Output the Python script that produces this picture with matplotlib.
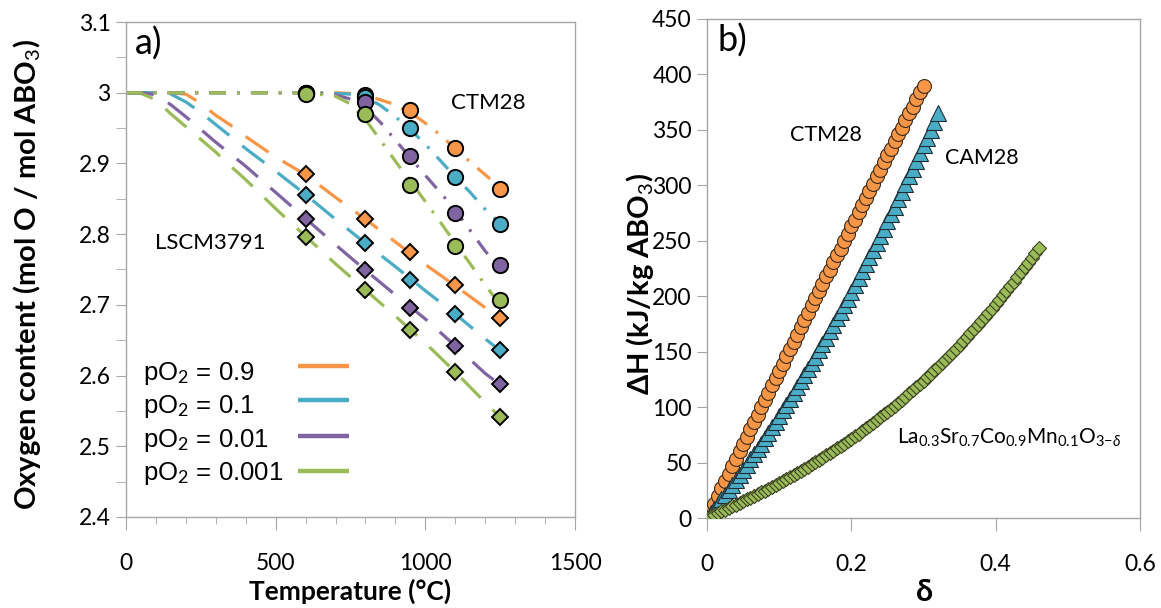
import matplotlib
matplotlib.use("Agg")
import matplotlib.pyplot as plt
from matplotlib.ticker import MultipleLocator

plt.rcParams["font.family"] = ["Lato", "DejaVu Sans"]
plt.rcParams["mathtext.fontset"] = "custom"
plt.rcParams["mathtext.rm"] = "Lato"
plt.rcParams["mathtext.bf"] = "Lato:bold"
plt.rcParams["mathtext.it"] = "Lato:italic"
plt.rcParams["mathtext.fallback"] = "stixsans"
plt.rcParams["lines.scale_dashes"] = False

ORANGE = "#F79646"
BLUE = "#4BACC6"
PURPLE = "#8064A2"
GREEN = "#9BBB59"
SPINE = "#a6a6a6"

# ---- panel a) oxygen content vs temperature ----
PO2_LABELS = ["0.9", "0.1", "0.01", "0.001"]

# measured points
T_POINTS = [600, 800, 950, 1100, 1250]
CTM_PTS_09 = [3.000, 2.997, 2.976, 2.922, 2.864]
CTM_PTS_01 = [3.000, 2.994, 2.950, 2.881, 2.815]
CTM_PTS_001 = [3.000, 2.987, 2.910, 2.830, 2.757]
CTM_PTS_0001 = [2.998, 2.970, 2.869, 2.783, 2.707]

LSCM_PTS_09 = [2.885, 2.822, 2.775, 2.728, 2.682]
LSCM_PTS_01 = [2.855, 2.787, 2.735, 2.687, 2.636]
LSCM_PTS_001 = [2.822, 2.749, 2.696, 2.642, 2.588]
LSCM_PTS_0001 = [2.796, 2.721, 2.664, 2.605, 2.542]

# model curves
T_CTM_MODEL = [0, 600, 700, 750, 800, 850, 900, 950, 1000, 1050, 1100, 1150, 1200, 1250]
CTM_MODEL_09 = [3.0, 3.0, 3.0, 2.999, 2.996, 2.990, 2.983, 2.972, 2.957, 2.940, 2.921, 2.902, 2.884, 2.866]
CTM_MODEL_01 = [3.0, 3.0, 2.999, 2.998, 2.994, 2.982, 2.966, 2.948, 2.927, 2.904, 2.881, 2.859, 2.835, 2.815]
CTM_MODEL_001 = [3.0, 3.0, 2.997, 2.991, 2.979, 2.958, 2.933, 2.908, 2.883, 2.859, 2.834, 2.805, 2.776, 2.752]
CTM_MODEL_0001 = [3.0, 3.0, 2.995, 2.984, 2.962, 2.933, 2.903, 2.875, 2.846, 2.817, 2.787, 2.758, 2.728, 2.700]

T_LSCM_MODEL = [0, 50, 100, 150, 200, 250, 300, 350, 400, 500, 600, 700, 800, 900, 1000, 1100, 1200, 1250]
LSCM_MODEL_09 = [3.0, 3.0, 3.0, 3.0, 2.998, 2.985, 2.968, 2.954, 2.938, 2.909, 2.884, 2.852, 2.821, 2.789, 2.757, 2.727, 2.696, 2.681]
LSCM_MODEL_01 = [3.0, 3.0, 3.0, 2.998, 2.987, 2.972, 2.955, 2.938, 2.921, 2.889, 2.856, 2.821, 2.787, 2.754, 2.720, 2.687, 2.652, 2.635]
LSCM_MODEL_001 = [3.0, 3.0, 2.997, 2.983, 2.966, 2.948, 2.930, 2.913, 2.896, 2.859, 2.822, 2.785, 2.749, 2.714, 2.680, 2.642, 2.603, 2.587]
LSCM_MODEL_0001 = [3.0, 2.999, 2.990, 2.970, 2.952, 2.934, 2.916, 2.896, 2.877, 2.836, 2.797, 2.758, 2.721, 2.684, 2.646, 2.605, 2.562, 2.541]

# ---- panel b) enthalpy vs delta ----
DELTA = [
    0.000, 0.005, 0.010, 0.015, 0.020, 0.025, 0.030, 0.035, 0.040, 0.045,
    0.050, 0.055, 0.060, 0.065, 0.070, 0.075, 0.080, 0.085, 0.090, 0.095,
    0.100, 0.105, 0.110, 0.115, 0.120, 0.125, 0.130, 0.135, 0.140, 0.145,
    0.150, 0.155, 0.160, 0.165, 0.170, 0.175, 0.180, 0.185, 0.190, 0.195,
    0.200, 0.205, 0.210, 0.215, 0.220, 0.225, 0.230, 0.235, 0.240, 0.245,
    0.250, 0.255, 0.260, 0.265, 0.270, 0.275, 0.280, 0.285, 0.290, 0.295,
    0.300, 0.305, 0.310, 0.315, 0.320, 0.325, 0.330, 0.335, 0.340, 0.345,
    0.350, 0.355, 0.360, 0.365, 0.370, 0.375, 0.380, 0.385, 0.390, 0.395,
    0.400, 0.405, 0.410, 0.415, 0.420, 0.425, 0.430, 0.435, 0.440, 0.445,
    0.450, 0.455, 0.460,
]
DH_CTM28 = [
    0, 7, 13, 20, 27, 33, 40, 47, 53, 60,
    67, 73, 80, 87, 93, 100, 106, 113, 120, 126,
    133, 139, 146, 152, 159, 165, 172, 179, 185, 192,
    198, 205, 211, 218, 224, 231, 237, 243, 250, 256,
    263, 269, 276, 282, 289, 295, 301, 308, 314, 321,
    327, 333, 340, 346, 352, 359, 365, 371, 378, 384,
    390,
]
DH_CAM28 = [
    0, 4.1, 8.3, 12.5, 16.8, 21.1, 25.5, 29.9, 34.4, 38.9,
    43.5, 48.1, 52.8, 57.5, 62.3, 67.1, 72.0, 76.9, 81.9, 86.9,
    92.0, 97.1, 102.3, 107.5, 112.8, 118.1, 123.5, 128.9, 134.4, 139.9,
    145.5, 151.1, 156.8, 162.5, 168.3, 174.1, 180.0, 185.9, 191.9, 197.9,
    204.0, 210.1, 216.3, 222.5, 228.8, 235.1, 241.5, 247.9, 254.4, 260.9,
    267.5, 274.1, 280.8, 287.5, 294.3, 301.1, 308.0, 314.9, 321.9, 328.9,
    336.0, 343.1, 350.3, 357.5, 364.8,
]
DH_LSCM = [
    0, 1.5, 2.9, 4.4, 5.9, 7.4, 8.9, 10.4, 12.0, 13.5,
    15.1, 16.7, 18.3, 19.9, 21.5, 23.2, 24.8, 26.5, 28.2, 30.0,
    31.7, 33.5, 35.3, 37.1, 38.9, 40.7, 42.6, 44.5, 46.4, 48.4,
    50.4, 52.4, 54.4, 56.4, 58.5, 60.6, 62.8, 64.9, 67.1, 69.4,
    71.6, 73.9, 76.2, 78.6, 80.9, 83.4, 85.8, 88.3, 90.8, 93.4,
    95.9, 98.6, 101.2, 103.9, 106.7, 109.4, 112.3, 115.1, 118.0, 120.9,
    123.9, 126.9, 130.0, 133.1, 136.2, 139.4, 142.6, 145.9, 149.2, 152.6,
    156.0, 159.5, 163.0, 166.5, 170.1, 173.8, 177.5, 181.2, 185.0, 188.9,
    192.8, 196.8, 200.8, 204.8, 208.9, 213.1, 217.3, 221.6, 226.0, 230.3,
    234.8, 239.3, 243.9,
]

DASH_LSCM = (20, 12)
DASH_CTM = (12, 8, 2, 8)


def style_axis(ax):
    for sp in ax.spines.values():
        sp.set_color(SPINE)
        sp.set_linewidth(1.0)
    ax.tick_params(which="both", direction="out", color=SPINE, labelsize=16.5)


def plot_oxygen(ax):
    colors = [ORANGE, BLUE, PURPLE, GREEN]
    ctm_model = [CTM_MODEL_09, CTM_MODEL_01, CTM_MODEL_001, CTM_MODEL_0001]
    lscm_model = [LSCM_MODEL_09, LSCM_MODEL_01, LSCM_MODEL_001, LSCM_MODEL_0001]
    ctm_pts = [CTM_PTS_09, CTM_PTS_01, CTM_PTS_001, CTM_PTS_0001]
    lscm_pts = [LSCM_PTS_09, LSCM_PTS_01, LSCM_PTS_001, LSCM_PTS_0001]

    for c, m in zip(colors, lscm_model):
        ax.plot(T_LSCM_MODEL, m, color=c, lw=2.3, dashes=DASH_LSCM, zorder=2)
    for c, m in zip(colors, ctm_model):
        ax.plot(T_CTM_MODEL, m, color=c, lw=2.3, dashes=DASH_CTM, zorder=2)
    for c, p in zip(colors, ctm_pts):
        ax.plot(T_POINTS, p, "o", ms=11, mfc=c, mec="black", mew=1.4, zorder=3)
    for c, p in zip(colors, lscm_pts):
        ax.plot(T_POINTS, p, "D", ms=8.3, mfc=c, mec="black", mew=1.4, zorder=3)

    ax.set_xlim(0, 1500)
    ax.set_ylim(2.4, 3.1)
    ax.xaxis.set_major_locator(MultipleLocator(500))
    ax.xaxis.set_minor_locator(MultipleLocator(100))
    ax.set_yticks([2.4, 2.5, 2.6, 2.7, 2.8, 2.9, 3.0, 3.1])
    ax.set_yticklabels(["2.4", "2.5", "2.6", "2.7", "2.8", "2.9", "3", "3.1"])
    ax.yaxis.set_minor_locator(MultipleLocator(0.05))
    style_axis(ax)
    ax.tick_params(axis="x", which="major", length=9, pad=17)
    ax.tick_params(axis="x", which="minor", length=5)
    ax.tick_params(axis="y", which="both", length=7, pad=4)

    ax.set_xlabel("Temperature (°C)", fontsize=19, fontweight="bold", va="center")
    ax.xaxis.set_label_coords(0.5, -0.151)
    ax.set_ylabel("Oxygen content (mol O / mol ABO$_3$)", fontsize=21, fontweight="bold")
    ax.yaxis.label.set_va("center")
    ax.yaxis.set_label_coords(-0.22, 0.49)

    ax.text(0.02, 0.99, "a)", transform=ax.transAxes, fontsize=26, va="top")
    ax.text(1085, 2.985, "CTM28", fontsize=16, va="center")
    ax.text(97, 2.787, "LSCM3791", fontsize=16, va="center")

    # legend drawn Excel-style: labels left aligned, line samples in a column
    text_y = [0.2768, 0.2095, 0.1422, 0.0749]
    line_y = [0.3057, 0.2364, 0.1636, 0.0935]
    for lab, c, ty, ly in zip(PO2_LABELS, colors, text_y, line_y):
        ax.text(0.038, ty, "pO$_2$ = " + lab, transform=ax.transAxes,
                fontsize=18.5, family=["Liberation Sans", "DejaVu Sans"], va="baseline")
        ax.plot([0.383, 0.497], [ly, ly], color=c, lw=3.2, transform=ax.transAxes,
                solid_capstyle="butt")


def plot_enthalpy(ax):
    ax.plot(DELTA[:len(DH_CTM28)], DH_CTM28, "o", ms=10, mfc=ORANGE, mec="#3b2b1b", mew=0.8, zorder=3)
    ax.plot(DELTA[:len(DH_CAM28)], DH_CAM28, "^", ms=11, mfc=BLUE, mec="#1e2e34", mew=0.8, zorder=4)
    ax.plot(DELTA[:len(DH_LSCM)], DH_LSCM, "D", ms=7.6, mfc=GREEN, mec="#3a4222", mew=0.8, zorder=5)

    ax.set_xlim(0, 0.6)
    ax.set_ylim(0, 450)
    ax.set_xticks([0, 0.2, 0.4, 0.6])
    ax.set_xticklabels(["0", "0.2", "0.4", "0.6"])
    ax.yaxis.set_major_locator(MultipleLocator(50))
    style_axis(ax)
    ax.tick_params(axis="x", length=9, pad=17)
    ax.tick_params(axis="y", length=7, pad=4)

    ax.set_xlabel("δ", fontsize=22, fontweight="bold", va="center")
    ax.xaxis.set_label_coords(0.503, -0.148)
    ax.set_ylabel("ΔH (kJ/kg ABO$_3$)", fontsize=21, fontweight="bold")
    ax.yaxis.label.set_va("center")
    ax.yaxis.set_label_coords(-0.155, 0.47)

    ax.text(0.023, 0.99, "b)", transform=ax.transAxes, fontsize=26, va="top")
    ax.text(0.115, 345, "CTM28", fontsize=15.5, va="center")
    ax.text(0.33, 325, "CAM28", fontsize=15.5, va="center")
    ax.text(0.263, 72, r"La$_{0.3}$Sr$_{0.7}$Co$_{0.9}$Mn$_{0.1}$O$_{3\mathrm{-}\delta}$",
            fontsize=15, va="center")


def main():
    fig = plt.figure(figsize=(11.61, 6.08), dpi=100)
    ax_a = fig.add_axes([0.1085, 0.1497, 0.3868, 0.8141])
    ax_b = fig.add_axes([0.609, 0.148, 0.3729, 0.8208])
    plot_oxygen(ax_a)
    plot_enthalpy(ax_b)
    fig.savefig("out.png", dpi=100)
    plt.close(fig)


if __name__ == "__main__":
    main()
